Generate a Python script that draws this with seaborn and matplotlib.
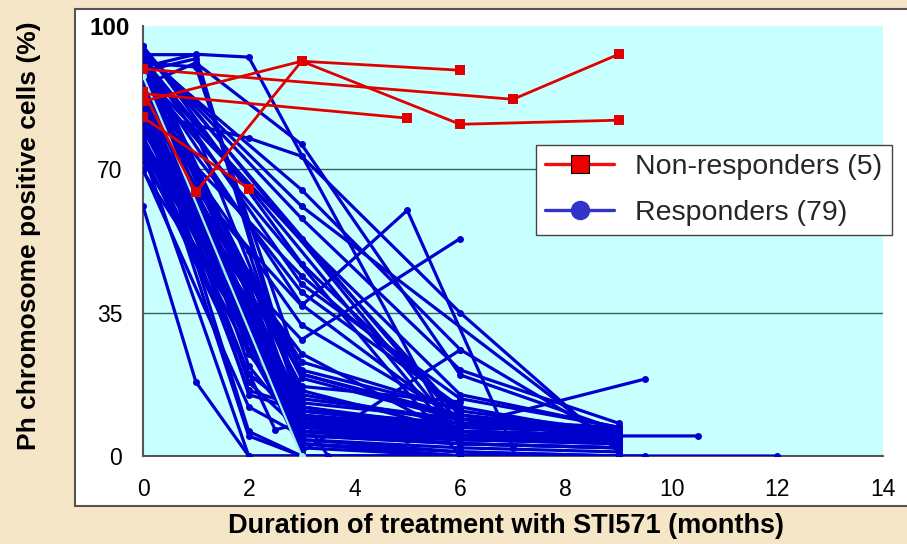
import numpy as np
import pandas as pd
import seaborn as sns
import matplotlib.pyplot as plt
import matplotlib.transforms as mtransforms
from matplotlib.patches import Rectangle
from matplotlib.lines import Line2D

# ---------------- data ----------------
# Non-responders: (months, % Ph+ cells)
nonresp_months = [
    [0, 2],
    [0, 1, 3, 6],
    [0, 7, 9],
    [0, 5],
    [0, 3, 6, 9],
]
nonresp_values = [
    [82.7, 65.3],
    [89.0, 64.4, 96.4, 94.2],
    [94.5, 87.1, 98.1],
    [88.5, 82.5],
    [86.6, 96.4, 81.0, 82.0],
]

# Responders, fast decline by 3 months then followed at 6 and 9 months
fast_months = [0, 3, 6, 9]
fast_values = [
    [100, 8, 5, 4], [98, 10, 6, 5], [95, 12, 7, 6],
    [93, 7, 6, 4], [90, 5, 3, 2],
    [87, 6, 5, 5], [85, 8, 8, 6],
]

# Responders with a 2-month assessment on the way down
fast2_months = [0, 2, 3, 6, 9]
fast2_values = [
    [83, 40, 7, 5, 3], [82, 35, 9, 6, 5], [81, 50, 11, 7, 6],
    [80, 30, 6, 4, 4], [79, 45, 8, 5, 5], [78, 28, 13, 9, 7],
    [77, 38, 5, 3, 2], [76, 25, 9, 6, 5], [75, 33, 7, 7, 6],
    [74, 20, 10, 5, 4], [73, 42, 6, 6, 5], [72, 30, 8, 4, 3],
    [97, 32, 4, 2, 1], [90, 18, 6, 3, 2], [86, 26, 3, 1, 0],
    [89, 6, 0, 0, 0], [84, 4.9, 0, 0, 0], [70, 12, 5, 4, 4],
    [97, 22, 6, 4, 3], [94, 36, 9, 5, 5], [92, 15, 11, 8, 6],
    [89, 28, 9, 7, 7], [88, 44, 14, 9, 6], [86, 20, 10, 4, 4],
    [84, 16, 12, 6, 5],
]

# Responders with a 1-month assessment
fast1_months = [0, 1, 3, 6, 9]
fast1_values = [
    [98, 98, 12, 6, 5], [94, 97, 10, 7, 6], [88, 79, 15, 8, 7],
    [96, 95, 20, 10, 6], [81, 63, 9, 5, 4], [91, 70, 8, 6, 5],
    [86, 60, 11, 7, 6], [76, 55, 7, 5, 4],
]

# Responders followed to 6 months
six_months = [0, 3, 6]
six_values = [
    [99, 16, 6], [96, 19, 9], [92, 21, 11.3], [88, 17, 13.2],
    [84, 23, 11.3], [80, 20, 9.3], [76, 25, 4.6], [93, 3, 0], [87, 2, 0],
]

# Slower responders
slow_months = [0, 3, 6, 9]
slow_values = [
    [100, 47, 10, 6], [97, 42, 14, 7], [95, 37, 8, 5], [93, 53, 15, 7],
    [90, 40, 12, 5], [87, 32, 9, 4], [84, 44, 11, 6], [99, 58, 21, 8],
    [98, 65, 26, 3],
]

# Responders first re-assessed at 6 months
late_months = [0, 6, 9]
late_values = [
    [100, 5, 4], [99, 8, 6], [97, 3, 2], [95, 10, 5], [93, 0, 0],
]

# Individually readable responders
other_months = [
    [0, 1, 2, 6],
    [0, 1, 3, 6, 9],
    [0, 2, 3, 6, 9],
    [0, 3, 5, 7],
    [0, 2, 3, 6],
    [0, 3, 9],
    [0, 3, 6],
    [0, 3, 5, 9.5],
    [0, 3, 6, 9, 10.5],
    [0, 3, 6, 9, 9.5],
    [0, 3, 6, 9, 12],
    [0, 1, 2, 3],
    [0, 2, 3, 6, 9],
    [0, 3, 3.5, 6, 9],
    [0, 2.5, 3, 6, 9],
]
other_values = [
    [95, 98.1, 97.4, 2],
    [90.5, 96, 76.1, 19.8, 6.3],
    [84, 77.6, 73.2, 35, 1],
    [79, 36.7, 60, 2],
    [84, 42, 28.4, 53.1],
    [99, 61, 2],
    [82, 1, 25.9],
    [89.5, 10, 4, 18.8],
    [86, 8, 5, 4.9, 4.9],
    [83, 4, 1, 0, 0],
    [92, 3, 0, 0, 0],
    [61, 18.1, 0, 0],
    [74, 0, 0, 0, 0],
    [69.5, 10, 0, 0, 0],
    [76, 6.4, 8, 5, 4],
]

# One responder drawn in light cyan
cyan_months = [0, 3]
cyan_values = [92.8, 0]

legend_labels = ["Non-responders (5)", "Responders (79)"]
x_ticks = [0, 2, 4, 6, 8, 10, 12, 14]
y_ticks = [0, 35, 70, 105]
y_ticklabels = ["0", "35", "70", "100"]

# ---------------- build long tables ----------------
def long_table(month_lists, value_lists, start=0):
    rows = []
    for i, (ms, vs) in enumerate(zip(month_lists, value_lists)):
        for m, v in zip(ms, vs):
            rows.append((start + i, m, v))
    return pd.DataFrame(rows, columns=["pid", "month", "pct"])

resp_m, resp_v = [], []
for months, vals in [(fast_months, fast_values), (fast2_months, fast2_values),
                     (fast1_months, fast1_values), (six_months, six_values),
                     (slow_months, slow_values), (late_months, late_values)]:
    for v in vals:
        resp_m.append(months)
        resp_v.append(v)
resp_m += other_months
resp_v += other_values

df_resp = long_table(resp_m, resp_v)
df_non = long_table(nonresp_months, nonresp_values, start=1000)
df_cyan = long_table([cyan_months], [cyan_values], start=2000)

# ---------------- figure ----------------
sns.set_theme(style="white")
plt.rcParams["font.family"] = ["Liberation Sans", "DejaVu Sans"]

W, H = 907, 544
fig = plt.figure(figsize=(W / 100, H / 100), dpi=100, facecolor="#f5e6c8")
panel = Rectangle((75 / W, (H - 506) / H), 1.0, (506 - 9) / H,
                  transform=fig.transFigure, facecolor="white",
                  edgecolor="#555555", lw=1.5, zorder=-10)
fig.patches.append(panel)

ax = fig.add_axes([143 / W, (H - 456) / H, 740 / W, 430 / H])
ax.set_zorder(1)
ax.set_facecolor("#c8ffff")

blue = "#0000cc"
red = "#e00000"

sns.lineplot(data=df_resp, x="month", y="pct", units="pid", estimator=None,
             sort=False, color=blue, lw=2.3, marker="o", markersize=5,
             markeredgewidth=0, ax=ax, zorder=3)
sns.lineplot(data=df_cyan, x="month", y="pct", units="pid", estimator=None,
             sort=False, color="#9ff5f0", lw=1.6, marker="o", markersize=5,
             markeredgewidth=0, ax=ax, zorder=3.5)
sns.lineplot(data=df_non, x="month", y="pct", units="pid", estimator=None,
             sort=False, color=red, lw=2.0, marker="s", markersize=7,
             markeredgewidth=0, ax=ax, zorder=4)

for yv in (35, 70):
    ax.axhline(yv, color="#3d5c5c", lw=1.0, zorder=1)

ax.set_xlim(0, 14)
ax.set_ylim(0, 105)
ax.set_xticks(x_ticks)
ax.set_yticks(y_ticks)
ax.set_xticklabels([str(t) for t in x_ticks])
ax.set_yticklabels(y_ticklabels)
ax.tick_params(axis="both", direction="in", length=5, width=1.2,
               color="#333333", labelsize=16.5, labelcolor="black")
ax.tick_params(axis="x", pad=16)
ax.tick_params(axis="y", pad=15)

lbl100 = ax.get_yticklabels()[-1]
lbl100.set_fontweight("bold")
lbl100.set_fontsize(17.5)
lbl100.set_transform(lbl100.get_transform() +
                     mtransforms.ScaledTranslation(0.08, 0, fig.dpi_scale_trans))

for s in ("top", "right"):
    ax.spines[s].set_visible(False)
for s in ("left", "bottom"):
    ax.spines[s].set_color("#555555")
    ax.spines[s].set_linewidth(1.5)

ax.set_xlabel("Duration of treatment with STI571 (months)", fontsize=19.5,
              fontweight="bold", color="black")
ax.set_ylabel("Ph chromosome positive cells (%)", fontsize=19,
              fontweight="bold", color="black")
ax.xaxis.set_label_coords(0.4905, -0.133)
ax.yaxis.set_label_coords(-0.138, 0.512)

handles = [
    Line2D([], [], color="#ee1111", lw=2.4, marker="s", markersize=12.5,
           markerfacecolor="#ee0000", markeredgecolor="black",
           markeredgewidth=0.8, label=legend_labels[0]),
    Line2D([], [], color="#3333cc", lw=2.4, marker="o", markersize=14,
           markerfacecolor="#3333cc", markeredgewidth=0,
           label=legend_labels[1]),
]
leg = ax.legend(handles=handles, loc="upper left",
                bbox_to_anchor=(536 / W, 1 - 145 / H),
                bbox_transform=fig.transFigure, borderaxespad=0,
                fontsize=20.5, frameon=True, fancybox=False,
                edgecolor="#444444", framealpha=1, facecolor="white",
                handlelength=2.4, handletextpad=0.75, labelspacing=0.68,
                borderpad=0.33)
leg.get_frame().set_linewidth(1.0)
leg.set_zorder(10)

fig.savefig("out.png", dpi=100, facecolor=fig.get_facecolor())
